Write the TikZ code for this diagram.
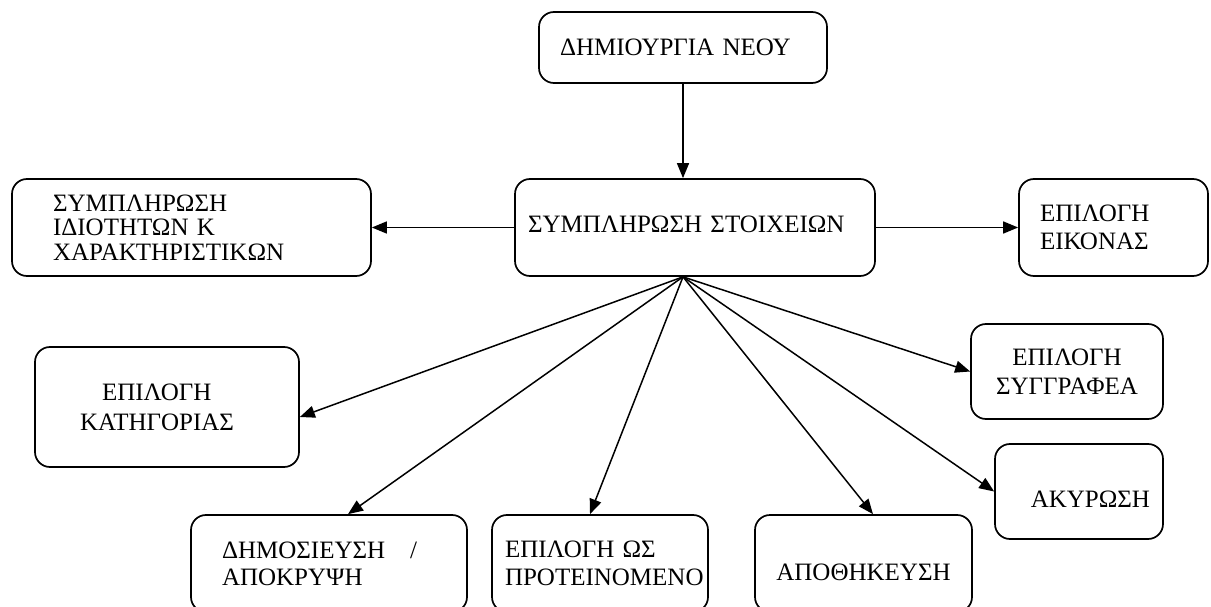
\documentclass[tikz,border=0pt]{standalone}
\usepackage{fontspec}
\setmainfont{Liberation Serif}
\usetikzlibrary{arrows.meta}

\tikzset{
  box/.style={draw, rounded corners=15pt, line width=1.7pt, inner sep=0pt, align=center,
    font=\fontsize{25}{29}\selectfont},
  conn/.style={line width=1.5pt, -{Triangle[length=15pt,width=12pt]}}
}

\begin{document}
\begin{tikzpicture}[x=1pt,y=1pt,yscale=-1,xscale=1]
    \useasboundingbox (0,0) rectangle (1211,607);

    % Text Node
    \node[box, minimum width=288pt, minimum height=71pt, text width=246pt, align=left] (neou) at (683,47.5) {ΔΗΜΙΟΥΡΓΙΑ ΝΕΟΥ};
    % Text Node
    \node[box, minimum width=360pt, minimum height=97pt, text width=334pt, align=left, text depth=7pt] (stoixeia) at (695,227.5) {ΣΥΜΠΛΗΡΩΣΗ ΣΤΟΙΧΕΙΩΝ};
    % Text Node
    \node[box, minimum width=359pt, minimum height=97pt, text width=277pt, align=left,
      font=\fontsize{25}{24.5}\selectfont] (idiotites) at (191.5,227.5) {ΣΥΜΠΛΗΡΩΣΗ\\ΙΔΙΟΤΗΤΩΝ Κ\\ΧΑΡΑΚΤΗΡΙΣΤΙΚΩΝ};
    % Text Node
    \node[box, minimum width=189pt, minimum height=97pt, text width=147pt, align=left,
      font=\fontsize{25}{28}\selectfont] (eikona) at (1113.5,227.5) {ΕΠΙΛΟΓΗ\\ΕΙΚΟΝΑΣ};
    % Text Node
    \node[box, minimum width=264pt, minimum height=120pt, text width=174pt, align=left,
      font=\fontsize{25}{30}\selectfont] (kategoria) at (167,407) {\hspace*{22pt}ΕΠΙΛΟΓΗ\\ΚΑΤΗΓΟΡΙΑΣ};
    % Text Node
    \node[box, minimum width=192pt, minimum height=95pt] (syggrafeas) at (1067,371.5) {ΕΠΙΛΟΓΗ\\ΣΥΓΓΡΑΦΕΑ};
    % Text Node
    \node[box, minimum width=168pt, minimum height=95pt, text width=142pt, align=right,
      text height=32pt, text depth=0pt] (akyrosi) at (1079,491.5) {ΑΚΥΡΩΣΗ};
    % Text Node
    \node[box, minimum width=276pt, minimum height=97pt, text width=214pt, align=left,
      font=\fontsize{25}{27}\selectfont] (dimosiefsi) at (329,563.5) {\makebox[195pt][l]{ΔΗΜΟΣΙΕΥΣΗ\hfill/}\\ΑΠΟΚΡΥΨΗ};
    % Text Node
    \node[box, minimum width=216pt, minimum height=97pt, text width=190pt, align=left,
      font=\fontsize{25}{28}\selectfont] (proteinomeno) at (600,563.5) {ΕΠΙΛΟΓΗ ΩΣ\\ΠΡΟΤΕΙΝΟΜΕΝΟ};
    % Text Node
    \node[box, minimum width=217pt, minimum height=97pt, text height=34pt, text depth=0pt] (apothikefsi) at (863.5,563.5) {ΑΠΟΘΗΚΕΥΣΗ};

    %Straight Lines
    \coordinate (fan) at (neou.south |- stoixeia.south);
    \draw[conn] (neou.south) -- (fan |- stoixeia.north);
    \draw[conn] (stoixeia.west) -- (idiotites.east);
    \draw[conn] (stoixeia.east) -- (eikona.west);
    \draw[conn] (fan) -- (kategoria.east |- 0,417);
    \draw[conn] (fan) -- (dimosiefsi.north -| 348,0);
    \draw[conn] (fan) -- (proteinomeno.north -| 590,0);
    \draw[conn] (fan) -- (apothikefsi.north -| 873,0);
    \draw[conn] (fan) -- (akyrosi.west);
    \draw[conn] (fan) -- (syggrafeas.west);

\end{tikzpicture}
\end{document}
